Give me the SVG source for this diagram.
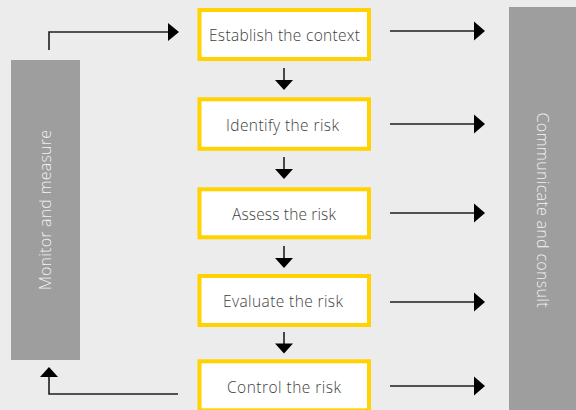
<svg xmlns="http://www.w3.org/2000/svg" width="576" height="410" viewBox="0 0 576 410">
<style>
.bg{fill:#ebeceb}
.side{fill:#9d9e9d}
.step{fill:#ffffff;stroke:#ffd200;stroke-width:4}
.lbl{font-family:"Open Sans","Noto Sans","Liberation Sans",sans-serif;font-size:15.5px;font-weight:300;fill:#3e3e3e;text-anchor:middle}
.slbl{font-family:"Open Sans","Noto Sans","Liberation Sans",sans-serif;font-size:16px;font-weight:300;fill:#f2f2f2;text-anchor:middle}
.ln{fill:none;stroke:#1e1e1e;stroke-width:1.6}
.hd{fill:#000000}
</style>
<rect class="bg" x="0" y="0" width="576" height="410"/>
<g id="monitor">
<rect class="side" x="11" y="60" width="69" height="300"/>
<text class="slbl" transform="translate(51,210) rotate(-90)" textLength="160">Monitor and measure</text>
</g>
<g id="communicate">
<rect class="side" x="509" y="7" width="67" height="403"/>
<text class="slbl" transform="translate(537,210) rotate(90)" textLength="195">Communicate and consult</text>
</g>
<g id="establish">
<rect class="step" x="199.5" y="10" width="169.5" height="49"/>
<text class="lbl" x="284.5" y="41" textLength="151">Establish the context</text>
</g>
<g id="identify">
<rect class="step" x="199.5" y="99.3" width="169.5" height="49.5"/>
<text class="lbl" x="282.5" y="130.5" textLength="113">Identify the risk</text>
</g>
<g id="assess">
<rect class="step" x="199.5" y="189.3" width="169.5" height="48"/>
<text class="lbl" x="284" y="219.5" textLength="104">Assess the risk</text>
</g>
<g id="evaluate">
<rect class="step" x="199.5" y="276" width="169.5" height="49"/>
<text class="lbl" x="283" y="307.3" textLength="120">Evaluate the risk</text>
</g>
<g id="control">
<rect class="step" x="199.5" y="361.3" width="169.5" height="49"/>
<text class="lbl" x="284" y="392.7" textLength="114">Control the risk</text>
</g>
<g id="connectors">
<path class="ln" d="M49,50 V32 H169"/>
<polygon class="hd" points="168,23 179,32 168,41"/>
<path class="ln" d="M178,394 H49 V376"/>
<polygon class="hd" points="40,377 49,367 58,377"/>
<path class="ln" d="M284,68 V81"/>
<polygon class="hd" points="275,80 293,80 284,90"/>
<path class="ln" d="M284,157 V170"/>
<polygon class="hd" points="275,169 293,169 284,179"/>
<path class="ln" d="M284,246 V259"/>
<polygon class="hd" points="275,258 293,258 284,268"/>
<path class="ln" d="M284,332 V344"/>
<polygon class="hd" points="275,343.5 293,343.5 284,353.5"/>
<path class="ln" d="M390,31 H475"/>
<polygon class="hd" points="474,21.5 485,31 474,40.5"/>
<path class="ln" d="M390,124 H475"/>
<polygon class="hd" points="474,114.5 485,124 474,133.5"/>
<path class="ln" d="M390,213 H475"/>
<polygon class="hd" points="474,203.5 485,213 474,222.5"/>
<path class="ln" d="M390,302 H475"/>
<polygon class="hd" points="474,292.5 485,302 474,311.5"/>
<path class="ln" d="M390,386 H475"/>
<polygon class="hd" points="474,376.5 485,386 474,395.5"/>
</g>
</svg>
